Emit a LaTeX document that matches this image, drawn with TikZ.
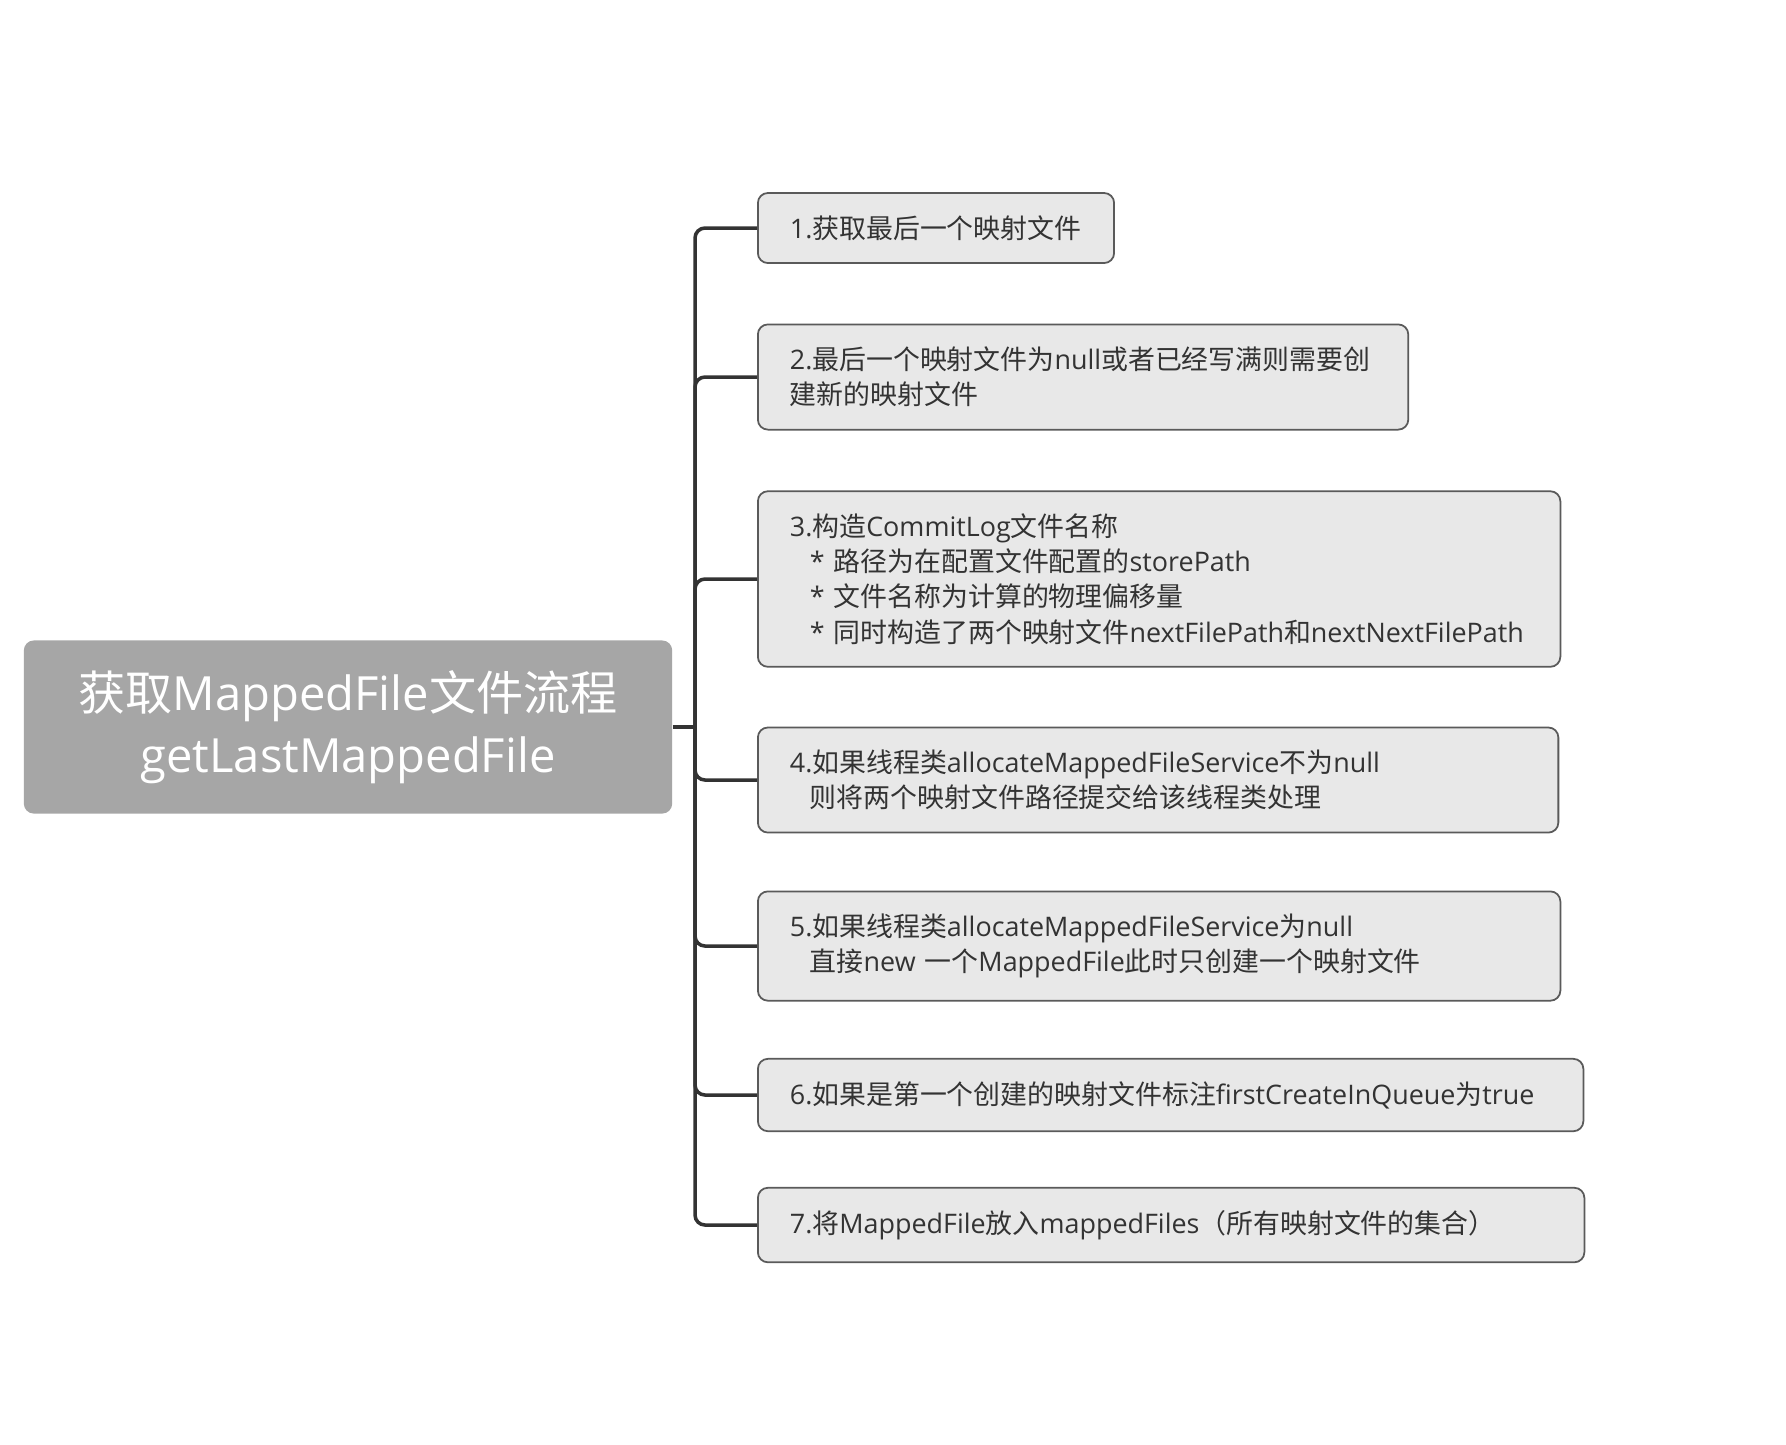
\documentclass[tikz,border=0pt]{standalone}
\usepackage{fontspec}
\setmainfont{Open Sans}
\newfontfamily\cjkfam{Noto Sans CJK SC}
\usepackage{xcolor}
\definecolor{LineGray}{RGB}{51,51,51}
\definecolor{BorderGray}{RGB}{90,90,90}
\definecolor{FillLight}{RGB}{232,232,232}
\definecolor{FillRoot}{RGB}{166,166,166}
\definecolor{TextGray}{RGB}{51,51,51}
% switch to the CJK family for Han characters and CJK punctuation
\XeTeXinterchartokenstate=1
\newXeTeXintercharclass\cjkclass
\makeatletter
\def\setcjkrange#1#2{\count@=#1\relax
  \loop\XeTeXcharclass\count@=\cjkclass
  \ifnum\count@<#2\advance\count@ 1 \repeat}
\setcjkrange{"3000}{"303F}
\setcjkrange{"4E00}{"9FFF}
\setcjkrange{"FF00}{"FFEF}
\makeatother
\XeTeXinterchartoks 0 \cjkclass = {\cjkfam}
\XeTeXinterchartoks 4095 \cjkclass = {\cjkfam}
\XeTeXinterchartoks \cjkclass 0 = {\normalfont}
\XeTeXinterchartoks \cjkclass 4095 = {\normalfont}
\newcommand\ind{\hspace*{0.2cm}}
\usetikzlibrary{positioning}
\tikzset{
  % central topic
  rootbox/.style={
    rectangle, rounded corners=0.1cm,
    fill=FillRoot, draw=none,
    text=white, align=center,
    minimum width=6.48cm, minimum height=1.73cm,
    font=\fontsize{13.4pt}{17.8pt}\selectfont
  },
  % step boxes
  stepbox/.style={
    rectangle, rounded corners=0.1cm,
    fill=FillLight, draw=BorderGray, line width=0.5pt,
    text=TextGray, align=left, anchor=west,
    inner xsep=0.32cm, inner ysep=0.225cm,
    font=\fontsize{7.65pt}{10pt}\selectfont
  },
  % tree connectors
  branch/.style={draw=LineGray, line width=1pt, rounded corners=0.1cm},
}
\begin{document}
\begin{tikzpicture}[x=0.01cm, y=-0.01cm]

  \fill[white] (0,0) rectangle (1786,1444);
  \useasboundingbox (0,0) rectangle (1786,1444);

  %% Root
  \node[rootbox] (root) at (348,727) {获取MappedFile文件流程\\getLastMappedFile};
  \coordinate (hub) at (695,727);

  %% Steps
  \node[stepbox, text width=2.92cm] (s1) at (757,228) {1.获取最后一个映射文件};
  \node[stepbox, text width=5.86cm] (s2) at (757,377)
    {2.最后一个映射文件为null或者已经写满则需要创\\建新的映射文件};
  \node[stepbox, text width=7.38cm] (s3) at (757,579)
    {3.构造CommitLog文件名称\\\ind* 路径为在配置文件配置的storePath\\\ind* 文件名称为计算的物理偏移量\\\ind* 同时构造了两个映射文件nextFilePath和nextNextFilePath};
  \node[stepbox, text width=7.36cm] (s4) at (757,780)
    {4.如果线程类allocateMappedFileService不为null\\\ind 则将两个映射文件路径提交给该线程类处理};
  \node[stepbox, text width=7.38cm] (s5) at (757,946)
    {5.如果线程类allocateMappedFileService为null\\\ind 直接new 一个MappedFile此时只创建一个映射文件};
  \node[stepbox, text width=7.61cm] (s6) at (757,1095) {6.如果是第一个创建的映射文件标注firstCreateInQueue为true};
  \node[stepbox, text width=7.62cm] (s7) at (757,1225) {7.将MappedFile放入mappedFiles（所有映射文件的集合）};

  %% Connectors
  \draw[branch] (root.east) -- (hub);
  \foreach \s in {s1,s2,s3,s4,s5,s6,s7}
    \draw[branch] (hub) |- (\s.west);

\end{tikzpicture}
\end{document}
